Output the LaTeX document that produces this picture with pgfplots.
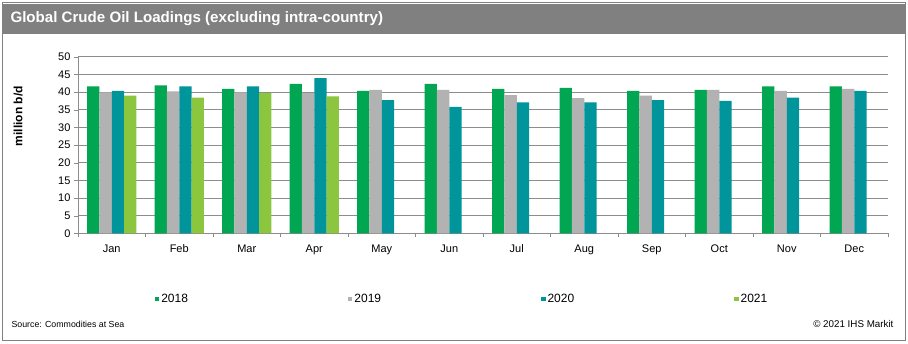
\documentclass[border=0pt]{standalone}
\usepackage{pgfplots}
\pgfplotsset{compat=1.18}
\usepackage{fontspec}
\setmainfont{Liberation Sans}
\definecolor{c18}{HTML}{00A651}
\definecolor{c19}{HTML}{B2B2B2}
\definecolor{c20}{HTML}{00959A}
\definecolor{c21}{HTML}{8CC63F}
\definecolor{framegray}{HTML}{808080}
\definecolor{gridgray}{HTML}{8C8C8C}
\begin{document}
\begin{tikzpicture}[x=1pt,y=1pt]
\useasboundingbox (0,0) rectangle (908,343);
\fill[white] (0,0) rectangle (908,343);
\draw[framegray,line width=1pt] (2.5,2.5) rectangle (905.5,340.5);
\fill[framegray] (2,309) rectangle (906,339);
\node[anchor=west,text=white,font=\bfseries\fontsize{15.1}{17}\selectfont] at (7,324) {Global Crude Oil Loadings (excluding intra-country)};
\node[anchor=west,font=\fontsize{8.8}{10}\selectfont] at (8,19) {Source: Commodities at Sea};
\node[anchor=east,font=\fontsize{9.8}{11}\selectfont] at (897,19) {\textcopyright{} 2021 IHS Markit};
\begin{axis}[
  at={(78pt,109.7pt)}, anchor=south west,
  scale only axis, width=810pt, height=176.6pt,
  xmin=-0.5, xmax=11.5, ymin=0, ymax=50,
  ytick={0,5,...,50},
  xtick={0,...,11},
  xticklabels={Jan,Feb,Mar,Apr,May,Jun,Jul,Aug,Sep,Oct,Nov,Dec},
  minor xtick={-0.5,0.5,...,11.5},
  major x tick style={draw=none},
  minor x tick style={gridgray},
  y tick style={gridgray},
  tick align=outside,
  major tick length=4pt, minor tick length=4pt,
  axis x line*=bottom, axis y line*=left,
  axis line style={gridgray,-},
  ymajorgrids, grid style={gridgray,line width=0.6pt},
  ticklabel style={font=\fontsize{11}{13}\selectfont},
  xticklabel style={yshift=-4pt},
  /pgf/number format/assume math mode=true,
  ylabel={\textbf{million b/d}},
  ylabel style={at={(axis description cs:-0.074,0.664)},anchor=center,font=\fontsize{12}{14}\selectfont},
  ybar, bar width=0.182,
  legend style={at={(axis description cs:0.091,-0.372)},anchor=west,draw=none,fill=none,
    font=\fontsize{12}{14}\selectfont,/tikz/every even column/.append style={column sep=158pt}},
  legend columns=4,
  legend image code/.code={\fill[#1,draw=none] (0pt,-2.2pt) rectangle (4.4pt,2.2pt);},
  legend cell align=left,
]
\addplot[fill=c18,draw=none,bar shift=-0.273] coordinates {(0,41.6) (1,41.9) (2,40.9) (3,42.3) (4,40.3) (5,42.3) (6,40.9) (7,41.2) (8,40.3) (9,40.6) (10,41.6) (11,41.6)};
\addplot[fill=c19,draw=none,bar shift=-0.091] coordinates {(0,39.9) (1,40.2) (2,39.9) (3,39.7) (4,40.6) (5,40.6) (6,39.1) (7,38.3) (8,39.0) (9,40.6) (10,40.3) (11,40.9)};
\addplot[fill=c20,draw=none,bar shift=0.091] coordinates {(0,40.3) (1,41.6) (2,41.6) (3,43.9) (4,37.7) (5,35.8) (6,37.1) (7,37.1) (8,37.7) (9,37.5) (10,38.4) (11,40.3)};
\addplot[fill=c21,draw=none,bar shift=0.273] coordinates {(0,39.0) (1,38.4) (2,39.7) (3,38.8)};
\legend{2018,2019,2020,2021}
\end{axis}
\end{tikzpicture}
\end{document}
